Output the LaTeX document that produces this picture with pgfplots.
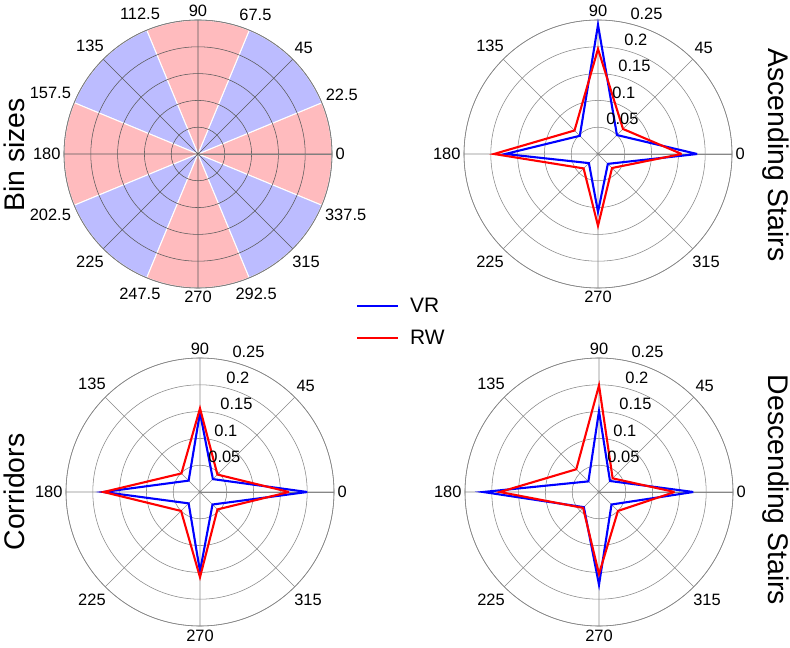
\documentclass[border=0pt]{standalone}
\usepackage{fontspec}
\setmainfont{Liberation Sans}
\usepackage{pgfplots}
\pgfplotsset{compat=1.18}
\usepgfplotslibrary{polar}
\definecolor{binpink}{RGB}{255,187,190}
\definecolor{binblue}{RGB}{188,188,255}
\definecolor{gridgray}{RGB}{135,135,135}
\pgfplotsset{
  mypolar/.style={
    width=268bp, height=268bp, scale only axis,
    anchor=center, clip=false,
    ymin=0, ymax=0.25,
    xtick={0,45,90,135,180,225,270,315},
    xticklabels={0,45,90,135,180,225,270,315},
    ytick={0.05,0.1,0.15,0.2,0.25},
    yticklabels={},
    xmajorgrids, ymajorgrids,
    grid style={gridgray, line width=0.55bp},
    axis line style={gridgray, line width=0.6bp},
    major tick length=0pt, minor tick length=0pt,
    tick label style={font=\fontsize{16.5}{19}\selectfont},
  },
  vr/.style={blue, line width=2.1bp, line join=miter},
  rw/.style={red, line width=2.1bp, line join=miter},
}
\newcommand{\rlabels}{%
  \node[anchor=west, font=\fontsize{16.5}{19}\selectfont, inner sep=0pt] at (axis cs:77,0.068) {0.05};
  \node[anchor=west, font=\fontsize{16.5}{19}\selectfont, inner sep=0pt] at (axis cs:77,0.118) {0.1};
  \node[anchor=west, font=\fontsize{16.5}{19}\selectfont, inner sep=0pt] at (axis cs:77,0.168) {0.15};
  \node[anchor=west, font=\fontsize{16.5}{19}\selectfont, inner sep=0pt] at (axis cs:77,0.218) {0.2};
  \node[anchor=west, font=\fontsize{16.5}{19}\selectfont, inner sep=0pt] at (axis cs:77,0.268) {0.25};
}
\begin{document}
\begin{tikzpicture}
\useasboundingbox (0,0) rectangle (790bp,648bp);

% ---------- Bin sizes ----------
\begin{polaraxis}[
  at={(198bp,494bp)},
  width=268bp, height=268bp, scale only axis,
  anchor=center, clip=false, axis on top,
  ymin=0, ymax=5,
  xtick={0,22.5,45,67.5,90,112.5,135,157.5,180,202.5,225,247.5,270,292.5,315,337.5},
  xticklabels={0,22.5,45,67.5,90,112.5,135,157.5,180,202.5,225,247.5,270,292.5,315,337.5},
  minor xtick={0,45,90,135,180,225,270,315},
  ytick={1,2,3,4,5}, yticklabels={},
  xmajorgrids=false, xminorgrids, ymajorgrids,
  grid style={black!65, line width=0.55bp},
  minor grid style={black!65, line width=0.55bp},
  axis line style={gray, line width=0.6bp},
  major tick length=0pt, minor tick length=0pt,
  tick label style={font=\fontsize{16.5}{19}\selectfont},
]
\addplot[fill=binpink, draw=white, line width=1bp] coordinates {(0,0) (-22.5,5) (-18,5) (-13.5,5) (-9,5) (-4.5,5) (0,5) (4.5,5) (9,5) (13.5,5) (18,5) (22.5,5) (0,0)};
\addplot[fill=binblue, draw=white, line width=1bp] coordinates {(0,0) (22.5,5) (27,5) (31.5,5) (36,5) (40.5,5) (45,5) (49.5,5) (54,5) (58.5,5) (63,5) (67.5,5) (0,0)};
\addplot[fill=binpink, draw=white, line width=1bp] coordinates {(0,0) (67.5,5) (72,5) (76.5,5) (81,5) (85.5,5) (90,5) (94.5,5) (99,5) (103.5,5) (108,5) (112.5,5) (0,0)};
\addplot[fill=binblue, draw=white, line width=1bp] coordinates {(0,0) (112.5,5) (117,5) (121.5,5) (126,5) (130.5,5) (135,5) (139.5,5) (144,5) (148.5,5) (153,5) (157.5,5) (0,0)};
\addplot[fill=binpink, draw=white, line width=1bp] coordinates {(0,0) (157.5,5) (162,5) (166.5,5) (171,5) (175.5,5) (180,5) (184.5,5) (189,5) (193.5,5) (198,5) (202.5,5) (0,0)};
\addplot[fill=binblue, draw=white, line width=1bp] coordinates {(0,0) (202.5,5) (207,5) (211.5,5) (216,5) (220.5,5) (225,5) (229.5,5) (234,5) (238.5,5) (243,5) (247.5,5) (0,0)};
\addplot[fill=binpink, draw=white, line width=1bp] coordinates {(0,0) (247.5,5) (252,5) (256.5,5) (261,5) (265.5,5) (270,5) (274.5,5) (279,5) (283.5,5) (288,5) (292.5,5) (0,0)};
\addplot[fill=binblue, draw=white, line width=1bp] coordinates {(0,0) (292.5,5) (297,5) (301.5,5) (306,5) (310.5,5) (315,5) (319.5,5) (324,5) (328.5,5) (333,5) (337.5,5) (0,0)};
\end{polaraxis}

% ---------- Ascending Stairs ----------
\begin{polaraxis}[
  mypolar, at={(598bp,494bp)},
  legend style={at={(axis description cs:-0.403,-0.039)}, anchor=north west,
    draw=none, fill=none, inner sep=0pt, outer sep=0pt,
    font=\fontsize{21}{24}\selectfont,
    nodes={inner sep=0pt, outer sep=0pt},
    row sep=16bp, cells={anchor=west}},
  legend image code/.code={\draw[#1] (0bp,0bp) -- (41bp,0bp); \path (52bp,0bp);},
]
\addplot[vr] coordinates {(0,0.185) (45,0.050) (90,0.241) (135,0.048) (180,0.173) (225,0.024) (270,0.108) (315,0.026) (360,0.185)};
\addlegendentry{VR}
\addplot[rw] coordinates {(0,0.156) (45,0.066) (90,0.196) (135,0.062) (180,0.194) (225,0.038) (270,0.134) (315,0.037) (360,0.156)};
\addlegendentry{RW}
\rlabels
\end{polaraxis}

% ---------- Corridors ----------
\begin{polaraxis}[mypolar, at={(200bp,156bp)}]
\addplot[vr] coordinates {(0,0.200) (45,0.034) (90,0.148) (135,0.030) (180,0.180) (225,0.030) (270,0.148) (315,0.033) (360,0.200)};
\addplot[rw] coordinates {(0,0.166) (45,0.046) (90,0.156) (135,0.049) (180,0.180) (225,0.050) (270,0.159) (315,0.046) (360,0.166)};
\rlabels
\end{polaraxis}

% ---------- Descending Stairs ----------
\begin{polaraxis}[mypolar, at={(599bp,156bp)}]
\addplot[vr] coordinates {(0,0.176) (45,0.029) (90,0.151) (135,0.028) (180,0.216) (225,0.040) (270,0.173) (315,0.033) (360,0.176)};
\addplot[rw] coordinates {(0,0.141) (45,0.036) (90,0.199) (135,0.060) (180,0.185) (225,0.042) (270,0.153) (315,0.050) (360,0.141)};
\rlabels
\end{polaraxis}

% ---------- row / column titles ----------
\node[rotate=90, inner sep=0pt, font=\fontsize{28.5}{32}\selectfont] at (14bp,493bp) {Bin sizes};
\node[rotate=90, inner sep=0pt, font=\fontsize{28.5}{32}\selectfont] at (14bp,156bp) {Corridors};
\node[rotate=-90, inner sep=0pt, font=\fontsize{28.5}{32}\selectfont] at (775.5bp,493bp) {Ascending Stairs};
\node[rotate=-90, inner sep=0pt, font=\fontsize{28.5}{32}\selectfont] at (775.5bp,158bp) {Descending Stairs};
\end{tikzpicture}
\end{document}
